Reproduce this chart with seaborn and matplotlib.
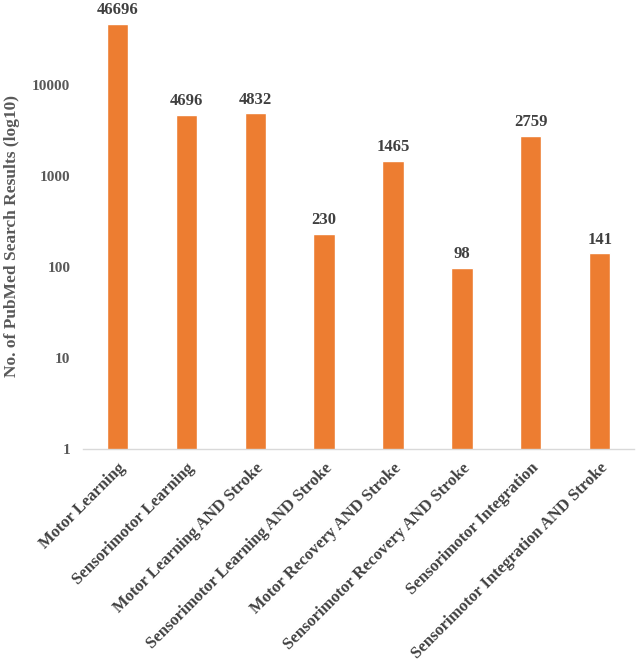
import numpy as np
import pandas as pd
import matplotlib
matplotlib.use("Agg")
import matplotlib.pyplot as plt
import seaborn as sns

# PubMed search terms and hit counts
queries = [
    "Motor Learning",
    "Sensorimotor Learning",
    "Motor Learning AND Stroke",
    "Sensorimotor Learning AND Stroke",
    "Motor Recovery AND Stroke",
    "Sensorimotor Recovery AND Stroke",
    "Sensorimotor Integration",
    "Sensorimotor Integration AND Stroke",
]
results = [46696, 4696, 4832, 230, 1465, 98, 2759, 141]
ytick_vals = [1, 10, 100, 1000, 10000]

df = pd.DataFrame({"query": queries, "results": results})

BAR = "#ED7D31"
TXT = "#404040"

sns.set_style("white")
plt.rcParams["font.family"] = ["Liberation Serif", "DejaVu Serif"]
plt.rcParams["font.weight"] = "bold"

fig = plt.figure(figsize=(6.38, 6.63), dpi=100)
ax = fig.add_axes([0.130, 0.3228, 0.864, 0.6772])

sns.barplot(data=df, x="query", y="results", color=BAR, width=0.31,
            saturation=1, ax=ax)
ax.set_yscale("log")
ax.set_ylim(1, 10 ** 4.93)
ax.set_xlim(-0.5, len(queries) - 0.5)

for p, v in zip(ax.patches, results):
    ax.annotate(str(v), (p.get_x() + p.get_width() / 2, v),
                xytext=(0, 4), textcoords="offset points",
                ha="center", va="bottom", fontsize=12,
                fontweight="bold", color=TXT, annotation_clip=False)

ax.set_yticks(ytick_vals)
ax.set_yticklabels([str(t) for t in ytick_vals])
ax.minorticks_off()
ax.tick_params(axis="y", length=0, labelsize=11, labelcolor="#595959", pad=9)
ax.tick_params(axis="x", length=0, labelsize=12, labelcolor=TXT, pad=8)
plt.setp(ax.get_xticklabels(), rotation=45, ha="right",
         rotation_mode="anchor", fontweight="bold")
plt.setp(ax.get_yticklabels(), fontweight="bold")

ax.set_xlabel("")
ax.set_ylabel("No. of PubMed Search Results (log10)", fontsize=12.5,
              fontweight="bold", color="#595959", va="center")
ax.yaxis.set_label_coords(-0.129, 0.474)

for s in ["top", "right", "left"]:
    ax.spines[s].set_visible(False)
ax.spines["bottom"].set_color("#D9D9D9")
ax.spines["bottom"].set_linewidth(1.0)
ax.grid(False)

fig.savefig("out.png", dpi=100)
